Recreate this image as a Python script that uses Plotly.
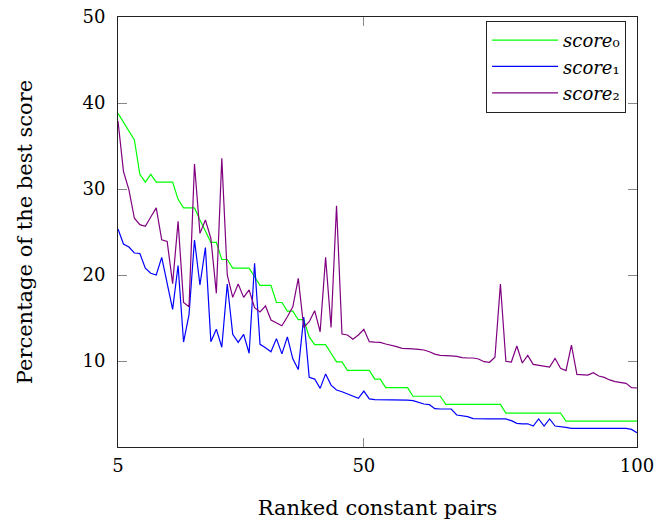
import plotly.graph_objects as go

ranks = list(range(5, 101))

score0 = [38.8, 37.8, 36.8, 35.7, 31.7, 30.8, 31.7, 30.8, 30.8, 30.8,
          30.8, 28.8, 27.8, 27.8, 27.8, 26.4, 25.1, 23.8, 23.8, 21.8,
          21.8, 20.8, 20.8, 20.8, 20.8, 19.8, 18.8, 18.8, 18.8, 16.8,
          16.8, 15.8, 15.8, 14.8, 14.8, 12.8, 11.9, 11.9, 11.9, 10.9,
          9.9, 9.9, 8.9, 8.9, 8.9, 8.9, 8.9, 7.9, 7.9, 6.9,
          6.9, 6.9, 6.9, 6.9, 5.9, 5.9, 5.9, 5.9, 5.9, 5.9,
          4.95, 4.95, 4.95, 4.95, 4.95, 4.95, 4.95, 4.95, 4.95, 4.95,
          4.95, 3.95, 3.95, 3.95, 3.95, 3.95, 3.95, 3.95, 3.95, 3.95,
          3.95, 3.95, 3.0, 3.0, 3.0, 3.0, 3.0, 3.0, 3.0, 3.0,
          3.0, 3.0, 3.0, 3.0, 3.0, 3.0]

score1 = [25.35, 23.6, 23.25, 22.56, 22.5, 20.8, 20.2, 20.0, 22.05, 19.1,
          16.0, 21.1, 12.2, 15.4, 24.07, 18.84, 23.2, 12.25, 13.7, 11.6,
          18.95, 13.1, 12.17, 13.1, 10.9, 21.36, 11.94, 11.55, 11.08, 12.6,
          10.83, 12.8, 10.25, 9.0, 15.1, 8.1, 7.9, 6.82, 8.5, 7.2,
          6.63, 6.43, 6.16, 5.9, 5.67, 6.5, 5.6, 5.5, 5.5, 5.5,
          5.5, 5.47, 5.47, 5.45, 5.4, 5.2, 5.0, 4.92, 4.46, 4.42,
          4.42, 4.42, 3.72, 3.64, 3.53, 3.3, 3.26, 3.26, 3.26, 3.26,
          3.26, 3.26, 3.06, 2.75, 2.7, 2.7, 2.44, 3.26, 2.44, 3.26,
          2.44, 2.4, 2.29, 2.17, 2.17, 2.17, 2.17, 2.17, 2.17, 2.17,
          2.17, 2.17, 2.17, 2.17, 2.05, 1.67]

score2 = [37.9, 32.05, 29.9, 26.6, 25.85, 25.66, 26.74, 27.8, 24.1, 23.9,
          19.0, 26.24, 16.8, 16.3, 32.9, 24.84, 26.4, 24.26, 17.87, 33.56,
          20.0, 17.4, 18.95, 17.4, 18.26, 16.2, 15.7, 16.4, 14.77, 14.46,
          14.1, 15.15, 16.3, 19.6, 13.9, 14.57, 15.85, 13.4, 22.05, 13.9,
          28.06, 13.14, 13.02, 12.52, 13.02, 13.68, 12.25, 12.2, 12.17, 11.98,
          11.86, 11.67, 11.47, 11.4, 11.4, 11.36, 11.28, 11.08, 10.8, 10.66,
          10.66, 10.6, 10.54, 10.39, 10.35, 10.35, 10.23, 9.92, 9.85, 10.43,
          18.95, 9.96, 9.88, 11.74, 9.77, 10.66, 9.61, 9.53, 9.38, 9.3,
          10.31, 9.15, 8.88, 11.86, 8.45, 8.37, 8.37, 8.64, 8.26, 8.1,
          7.8, 7.6, 7.48, 7.4, 6.9, 6.86]

x_ticks = [5, 50, 100]
y_ticks = [10, 20, 30, 40, 50]

series = [
    ("<i>score</i>₀", score0, "#00ff00"),
    ("<i>score</i>₁", score1, "#0000ff"),
    ("<i>score</i>₂", score2, "#800080"),
]

fig = go.Figure()
for name, vals, col in series:
    fig.add_trace(go.Scatter(x=ranks, y=vals, mode="lines", name=name,
                             line=dict(color=col, width=1.2)))

font_family = "DejaVu Serif"
axis_common = dict(showline=True, linecolor="#222", linewidth=1, mirror="ticks",
                   ticks="inside", ticklen=9, tickcolor="#888", tickwidth=1,
                   showgrid=False, zeroline=False, automargin=False,
                   ticklabeloverflow="allow",
                   tickfont=dict(family=font_family, size=18, color="black"))

fig.update_xaxes(range=[5, 100], tickvals=x_ticks, ticktext=[str(t) for t in x_ticks],
                 title=dict(text="Ranked constant pairs", standoff=27,
                            font=dict(family=font_family, size=21, color="black")),
                 ticklabelstandoff=2, **axis_common)
fig.update_yaxes(range=[0, 50], tickvals=y_ticks, ticktext=[str(t) for t in y_ticks],
                 title=dict(text="Percentage of the best score", standoff=44,
                            font=dict(family=font_family, size=21, color="black")),
                 ticklabelstandoff=8, **axis_common)

fig.update_layout(
    width=657, height=520,
    margin=dict(l=118, r=20, t=17, b=73),
    plot_bgcolor="white", paper_bgcolor="white",
    font=dict(family=font_family, color="black"),
    legend=dict(x=0.979, y=0.991, xanchor="right", yanchor="top",
                bgcolor="white", bordercolor="#222", borderwidth=1,
                font=dict(family=font_family, size=18, color="black"),
                itemwidth=66, tracegroupgap=0),
    showlegend=True,
)

fig.write_html("out.html", config={"displayModeBar": False},
               post_script="document.body.style.margin='0';")
